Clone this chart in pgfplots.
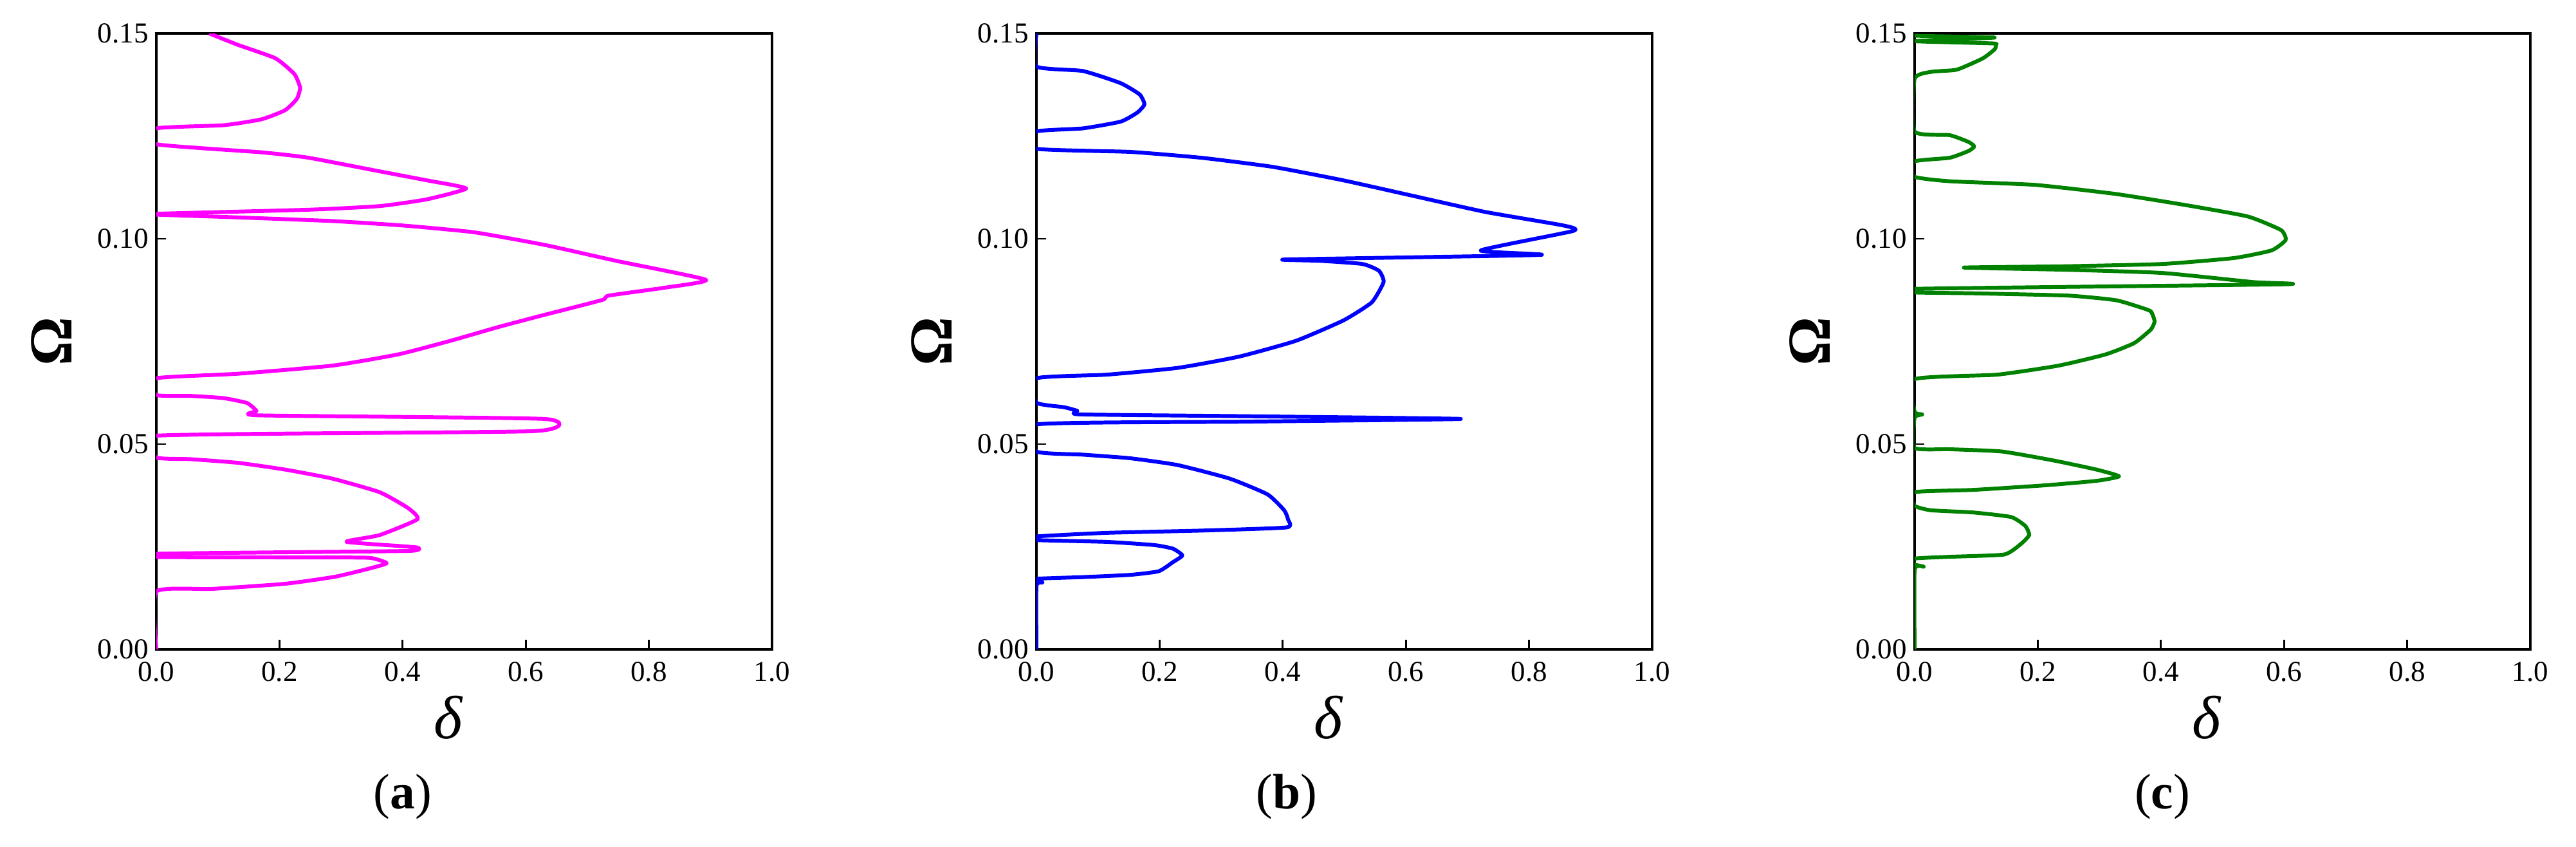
\documentclass[border=0pt]{standalone}
\usepackage{fontspec}
\setmainfont{Liberation Serif}
\usepackage{pgfplots}
\pgfplotsset{compat=1.18}

\pgfplotsset{
  panel/.style={
    width=9.57cm, height=9.57cm, scale only axis,
    anchor=south west,
    xmin=0, xmax=1, ymin=0, ymax=0.15,
    xtick={0,0.2,0.4,0.6,0.8,1},
    ytick={0,0.05,0.1,0.15},
    tick align=inside, xtick pos=bottom, ytick pos=left,
    major tick length=0.15cm,
    axis line style={line width=1pt},
    every tick/.style={black, line width=0.8pt},
    /pgf/number format/assume math mode=true,
    tick label style={font=\fontsize{12.8}{14}\selectfont},
    x tick label style={yshift=-2pt, /pgf/number format/.cd, fixed, fixed zerofill, precision=1},
    y tick label style={/pgf/number format/.cd, fixed, fixed zerofill, precision=2},
    xlabel={\textit{δ}},
    xlabel style={at={(axis description cs:0.475,-0.111)}, anchor=center, font=\fontsize{27}{30}\selectfont},
    ylabel={\textbf{Ω}},
    ylabel style={at={(axis description cs:-0.17,0.5)}, anchor=center, font=\fontsize{27}{30}\selectfont},
  },
  curve/.style={line width=1.7pt, line join=round, smooth, tension=0.3},
}
\definecolor{cmag}{RGB}{255,0,255}
\definecolor{cblue}{RGB}{0,0,255}
\definecolor{cgreen}{RGB}{0,130,0}

\begin{document}
\begin{tikzpicture}
\useasboundingbox (0,0) rectangle (40.04,13.15);

% (a)
\begin{axis}[panel, at={(2.43cm,3.06cm)}]
\addplot[curve, cmag] coordinates {
 (0,0) (0,0.01409) (0.090,0.01473) (0.21,0.0160) (0.29,0.0177) (0.346,0.0197) (0.374,0.0210)
 (0.346,0.0223) (0.25,0.0224) (0,0.0225)
 (0,0.0233) (0.2089,0.02366) (0.4124,0.0240) (0.4217,0.02487) (0.3088,0.02619) (0.3625,0.02784)
 (0.424,0.0317) (0.4086,0.03445) (0.3625,0.0383) (0.2857,0.0416) (0.2089,0.0438) (0.1321,0.04545)
 (0.0553,0.04633) (0,0.04677)
 (0,0.05205) (0.612,0.05315) (0.6298,0.05613) (0.1667,0.0570) (0.1628,0.0581) (0.1475,0.0600)
 (0.109,0.0612) (0.0553,0.06174) (0,0.06196)
 (0,0.06603) (0.1321,0.06713) (0.2857,0.06911) (0.3932,0.07186) (0.4777,0.07516) (0.5545,0.07847)
 (0.6237,0.08122) (0.7235,0.08507) (0.7350,0.08617) (0.8233,0.08804) (0.8925,0.09002)
 (0.7465,0.09464) (0.6313,0.09849) (0.5161,0.10158) (0.4009,0.10323) (0.2857,0.10432)
 (0.1321,0.10521) (0,0.10587)
 (0,0.1061) (0.2473,0.10708) (0.3625,0.10796) (0.4393,0.10961) (0.5031,0.11225)
 (0.4393,0.11423) (0.3625,0.11643) (0.2473,0.11973) (0.1705,0.12106) (0,0.12303)
 (0,0.12689) (0.1091,0.12766) (0.1705,0.12909) (0.2089,0.13129) (0.2281,0.13404) (0.2335,0.13679)
 (0.2243,0.1401) (0.1935,0.14395) (0.1321,0.14725) (0.086,0.15)
};
\end{axis}

% (b)
\begin{axis}[panel, at={(16.11cm,3.06cm)}]
\addplot[curve, cblue] coordinates {
 (0,0) (0,0.0154) (0.010,0.0163) (0,0.0172)
 (0.0754,0.01761) (0.1523,0.01816) (0.1985,0.01904) (0.2215,0.02124) (0.2369,0.02289)
 (0.2215,0.02454) (0.1908,0.02542) (0.1138,0.02619) (0,0.02663)
 (0,0.02751) (0.1138,0.02839) (0.2677,0.02894) (0.4062,0.02971) (0.4085,0.0317) (0.4023,0.0339)
 (0.3754,0.03775) (0.3138,0.0416) (0.2292,0.0449) (0.1523,0.04655) (0.0754,0.04743) (0,0.0482)
 (0,0.0548) (0.3446,0.05547) (0.6892,0.05613) (0.3446,0.05679) (0.0715,0.05723) (0.0662,0.0581)
 (0.0446,0.05899) (0,0.06009)
 (0,0.06603) (0.1138,0.06691) (0.2292,0.06856) (0.3292,0.07131) (0.4215,0.07516) (0.4985,0.08012)
 (0.5446,0.08452) (0.5638,0.08947) (0.5562,0.09222) (0.5292,0.09387) (0.46,0.09464) (0.4062,0.09497)
 (0.8177,0.09607) (0.7215,0.09717) (0.8715,0.1019) (0.8562,0.10323) (0.7292,0.10653)
 (0.6138,0.11038) (0.4985,0.11423) (0.3831,0.11753) (0.2677,0.11973) (0.1523,0.12116) (0,0.12193)
 (0,0.12612) (0.0754,0.12689) (0.1369,0.12854) (0.1638,0.13074) (0.1754,0.13272) (0.1677,0.13514)
 (0.1369,0.13789) (0.0754,0.14086) (0,0.14196) (0,0.15)
};
\end{axis}

% (c)
\begin{axis}[panel, at={(29.76cm,3.06cm)}]
\addplot[curve, cgreen] coordinates {
 (0,0) (0,0.01937) (0.0146,0.02014) (0,0.02069)
 (0,0.02212) (0.0569,0.02256) (0.1453,0.02311) (0.1722,0.02564) (0.186,0.02784) (0.1799,0.03004)
 (0.1568,0.03224) (0.0953,0.03335) (0.0261,0.03389) (0,0.0350)
 (0,0.0383) (0.0953,0.03885) (0.2106,0.03995) (0.2952,0.04105) (0.332,0.04215) (0.2952,0.0438)
 (0.226,0.0460) (0.1414,0.0482) (0.0569,0.04875) (0,0.04908)
 (0,0.05646) (0.0123,0.05723) (0,0.05789)
 (0,0.06581) (0.1337,0.06691) (0.2337,0.06911) (0.3105,0.07186) (0.3567,0.07461) (0.3836,0.07791)
 (0.3897,0.0799) (0.3836,0.08232) (0.3643,0.08342) (0.3259,0.08507) (0.249,0.08617)
 (0.0953,0.08672) (0,0.08694)
 (0,0.08782) (0.6011,0.08892) (0.5488,0.08947) (0.4028,0.09167) (0.249,0.09244) (0.0799,0.09299)
 (0.249,0.09332) (0.4028,0.09387) (0.518,0.0953) (0.5796,0.09717) (0.6026,0.0997) (0.595,0.10213)
 (0.5411,0.10543) (0.4412,0.10818) (0.3259,0.11093) (0.1952,0.11313) (0.0569,0.11401) (0,0.11511)
 (0,0.11885) (0.0569,0.11973) (0.0876,0.12139) (0.0968,0.12249) (0.0876,0.12358) (0.0569,0.12524)
 (0,0.12612)
 (0,0.1390) (0.0261,0.14064) (0.0684,0.14119) (0.1107,0.14394) (0.1299,0.14614) (0.1322,0.14724)
 (0.1261,0.14758) (0,0.14813) (0.1299,0.1490) (0,0.14945) (0,0.15)
};
\end{axis}

% sub-captions
\node[font=\fontsize{22}{26}\selectfont] at (6.26,0.77) {(\textbf{a})};
\node[font=\fontsize{22}{26}\selectfont] at (20.00,0.77) {(\textbf{b})};
\node[font=\fontsize{22}{26}\selectfont] at (33.61,0.77) {(\textbf{c})};
\end{tikzpicture}
\end{document}
